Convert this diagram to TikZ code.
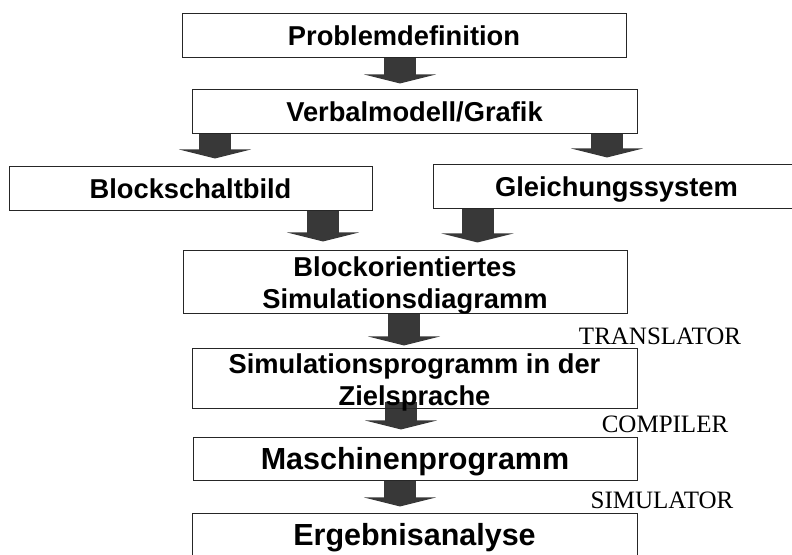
\documentclass[tikz,border=0pt]{standalone}
\usepackage{fontspec}
\setmainfont{Liberation Serif}
\setsansfont{Liberation Sans}
\usetikzlibrary{arrows.meta,backgrounds}

\tikzset{
  stage/.style={draw=black!85, line width=0.9pt, inner sep=0pt, minimum height=44pt,
    font=\sffamily\bfseries\fontsize{27.3}{32}\selectfont, text height=20pt, text depth=0pt},
  bigstage/.style={stage, font=\sffamily\bfseries\fontsize{30.5}{36}\selectfont, text height=21pt},
  flowarrow/.style={line width=32pt, draw=black!78, -{Triangle[width=72pt,length=9pt]}},
  toollabel/.style={font=\fontsize{25}{30}\selectfont, anchor=base}
}

\begin{document}
\begin{tikzpicture}[x=1pt,y=-1pt]
\useasboundingbox (0,0) rectangle (792,554);

% stages of the simulation study
\node[stage, minimum width=444pt] (prob) at (404,35) {Problemdefinition};
\node[stage, minimum width=445pt] (verb) at (414.5,111) {Verbalmodell/Grafik};
\node[stage, minimum width=363pt] (blk) at (190.5,188) {Blockschaltbild};
\node[stage, minimum width=367pt] (gls) at (616.5,186) {Gleichungssystem};
\node[stage, minimum width=444pt, minimum height=63pt, align=center, text height=53pt] (bos) at (405,281.5) {Blockorientiertes\\Simulationsdiagramm};
\node[stage, minimum width=445pt, minimum height=60pt, align=center, text height=54pt] (zsp) at (414.5,378) {Simulationsprogramm in der\\Zielsprache};
\node[bigstage, minimum width=444pt, minimum height=43pt] (mas) at (415,458.5) {Maschinenprogramm};
\node[bigstage, minimum width=445pt] (erg) at (414.5,535) {Ergebnisanalyse};

% tools between the stages
\node[toollabel] (trans) at (660,344) {TRANSLATOR};
\node[toollabel] (comp) at (665,432) {COMPILER};
\node[toollabel] (sim) at (662,508) {SIMULATOR};

% block arrows
\begin{scope}[on background layer]
\draw[flowarrow] ([xshift=-4pt]prob.south) -- ++(0,26);
\draw[flowarrow] ([xshift=-199.5pt]verb.south) -- ++(0,25);
\draw[flowarrow] ([xshift=192.5pt]verb.south) -- ++(0,24);
\draw[flowarrow] ([xshift=132.5pt]blk.south) -- ++(0,31);
\draw[flowarrow] ([xshift=-139pt]gls.south) -- ++(0,34);
\draw[flowarrow] ([xshift=-1pt]bos.south) -- ++(0,32);
\draw[flowarrow] ([xshift=-13.5pt,yshift=6pt]zsp.south) -- ++(0,27);
\draw[flowarrow] ([xshift=-15pt]mas.south) -- ++(0,26);
\end{scope}
\end{tikzpicture}
\end{document}
